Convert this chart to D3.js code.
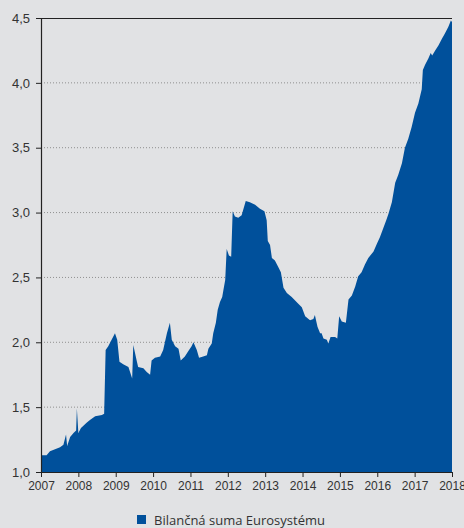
<!DOCTYPE html>
<html>
<head>
<meta charset="utf-8">
<script src="https://cdn.jsdelivr.net/npm/d3@7"></script>
<style>
  body { margin: 0; background: #e1e2e4; }
  svg { display: block; font-family: "Open Sans", sans-serif; }
</style>
</head>
<body>
<div id="chart"></div>
<script>
// time as decimal years
const years = [
  2007.00, 2007.15, 2007.24, 2007.51, 2007.60, 2007.67, 2007.70, 2007.78, 2007.87, 2007.94,
  2007.96, 2008.00, 2008.07, 2008.22, 2008.31, 2008.45, 2008.63, 2008.69, 2008.73, 2008.80,
  2008.89, 2008.98, 2009.04, 2009.10, 2009.20, 2009.34, 2009.44, 2009.47, 2009.56, 2009.60,
  2009.74, 2009.83, 2009.92, 2009.96, 2010.05, 2010.19, 2010.27, 2010.37, 2010.45, 2010.50,
  2010.59, 2010.68, 2010.74, 2010.85, 2010.94, 2011.03, 2011.08, 2011.17, 2011.23, 2011.34,
  2011.44, 2011.48, 2011.57, 2011.61, 2011.68, 2011.73, 2011.79, 2011.85, 2011.88, 2011.93,
  2011.97, 2012.03, 2012.09, 2012.13, 2012.19, 2012.28, 2012.37, 2012.42, 2012.48, 2012.59,
  2012.73, 2012.86, 2012.98, 2013.04, 2013.07, 2013.13, 2013.18, 2013.26, 2013.35, 2013.42,
  2013.49, 2013.58, 2013.71, 2013.84, 2013.98, 2014.07, 2014.20, 2014.29, 2014.33, 2014.40,
  2014.47, 2014.51, 2014.56, 2014.65, 2014.69, 2014.75, 2014.87, 2014.93, 2014.98, 2015.05,
  2015.16, 2015.23, 2015.32, 2015.41, 2015.49, 2015.58, 2015.67, 2015.76, 2015.90, 2015.99,
  2016.07, 2016.16, 2016.24, 2016.30, 2016.39, 2016.48, 2016.56, 2016.66, 2016.74, 2016.83,
  2016.92, 2017.01, 2017.10, 2017.19, 2017.22, 2017.28, 2017.37, 2017.43, 2017.47, 2017.55,
  2017.64, 2017.73, 2017.81, 2017.90, 2017.97, 2018.00
];
const balance = [
  1.13, 1.13, 1.16, 1.19, 1.21, 1.29, 1.20, 1.27, 1.30, 1.32,
  1.49, 1.30, 1.34, 1.38, 1.40, 1.43, 1.44, 1.45, 1.94, 1.97,
  2.02, 2.07, 2.02, 1.85, 1.83, 1.81, 1.72, 1.98, 1.86, 1.81,
  1.80, 1.77, 1.75, 1.86, 1.88, 1.89, 1.94, 2.07, 2.15, 2.02,
  1.97, 1.95, 1.86, 1.89, 1.93, 1.97, 2.00, 1.94, 1.88, 1.89,
  1.90, 1.95, 1.99, 2.07, 2.15, 2.25, 2.31, 2.35, 2.40, 2.48,
  2.72, 2.67, 2.66, 3.01, 2.97, 2.96, 2.98, 3.03, 3.09, 3.08,
  3.06, 3.03, 3.01, 2.94, 2.78, 2.75, 2.65, 2.63, 2.58, 2.54,
  2.42, 2.38, 2.35, 2.31, 2.27, 2.20, 2.17, 2.18, 2.21, 2.12,
  2.07, 2.07, 2.03, 2.02, 1.99, 2.04, 2.04, 2.03, 2.20, 2.16,
  2.15, 2.33, 2.36, 2.43, 2.51, 2.54, 2.60, 2.65, 2.70, 2.76,
  2.81, 2.88, 2.94, 2.99, 3.08, 3.23, 3.29, 3.38, 3.50, 3.57,
  3.66, 3.77, 3.84, 3.95, 4.10, 4.14, 4.19, 4.23, 4.21, 4.25,
  4.29, 4.34, 4.38, 4.43, 4.48, 4.47
];
const yearTicks = d3.range(2007, 2019);
const valueTicks = [1.0, 1.5, 2.0, 2.5, 3.0, 3.5, 4.0, 4.5];
const legendLabel = "Bilančná suma Eurosystému";

const width = 464, height = 528;
const margin = {top: 18, right: 12, bottom: 56, left: 41};
const w = width - margin.left - margin.right;
const h = height - margin.top - margin.bottom;

const svg = d3.select("#chart").append("svg")
    .attr("width", width)
    .attr("height", height);

svg.append("rect").attr("width", width).attr("height", height).attr("fill", "#e1e2e4");

const g = svg.append("g").attr("transform", "translate(" + margin.left + "," + margin.top + ")");

const x = d3.scaleLinear().domain([2007, 2018]).range([0, w]);
const y = d3.scaleLinear().domain([1.0, 4.5]).range([h, 0]);
const fmt = d3.format(".1f");

// dotted gridlines
g.append("g").selectAll("line")
    .data(valueTicks.filter((v) => v > 1.0 && v < 4.5))
    .enter().append("line")
        .attr("x1", 0).attr("x2", w)
        .attr("y1", (d) => y(d)).attr("y2", (d) => y(d))
        .attr("stroke", "#8f8f8f")
        .attr("stroke-width", 1)
        .attr("stroke-dasharray", "1,2");

const data = years.map((t, i) => ({t: t, v: balance[i]}));

const area = d3.area()
    .x((d) => x(d.t))
    .y0(y(1.0))
    .y1((d) => y(d.v));

g.append("path")
    .datum(data)
    .attr("d", area)
    .attr("fill", "#00509b");

// top frame line
g.append("line")
    .attr("x1", 0).attr("x2", w).attr("y1", 0.5).attr("y2", 0.5)
    .attr("stroke", "#222").attr("stroke-width", 1.2);

const xAxis = d3.axisBottom(x).tickValues(yearTicks).tickFormat(d3.format("d")).tickSize(5).tickPadding(4);
const xg = g.append("g").attr("transform", "translate(0," + h + ")").call(xAxis);
xg.select(".domain").attr("stroke", "#222");
xg.selectAll(".tick line").attr("stroke", "#222");
xg.selectAll("text").attr("font-size", 12).attr("fill", "#333");

const yAxis = d3.axisLeft(y).tickValues(valueTicks).tickFormat((d) => fmt(d).replace(".", ",")).tickSize(5).tickPadding(6);
const yg = g.append("g").call(yAxis);
yg.select(".domain").attr("stroke", "#222").attr("stroke-width", 1.2);
yg.selectAll(".tick line").attr("stroke", "#222");
yg.selectAll("text").attr("font-size", 13).attr("fill", "#333");

// legend
const legend = svg.append("g").attr("transform", "translate(137,515)");
legend.append("rect").attr("width", 9).attr("height", 9).attr("fill", "#00509b");
legend.append("text")
    .attr("x", 17).attr("y", 10)
    .attr("font-size", 13)
    .attr("fill", "#333")
    .text(legendLabel);
</script>
</body>
</html>
